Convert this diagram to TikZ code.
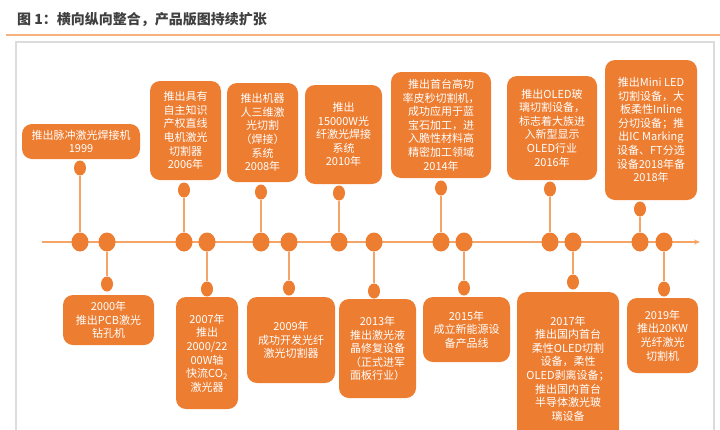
\documentclass[tikz,border=0pt]{standalone}
\usepackage{fontspec}
\newfontfamily\cjk{Noto Sans CJK SC}
\usetikzlibrary{shapes.geometric,arrows.meta}
\definecolor{evorange}{HTML}{ED7D31}
\definecolor{stemorange}{HTML}{F4A467}
\definecolor{ruleorange}{HTML}{F5B27E}
\definecolor{framegray}{HTML}{DCDCDC}
\definecolor{titlegray}{HTML}{404040}

\begin{document}
\begin{tikzpicture}[x=1pt, y=-1pt,
        event/.style={fill=evorange, rounded corners=10pt, text=white, align=center, inner sep=0pt, font=\cjk\fontsize{11}{13.6}\selectfont},
        bigdot/.style={ellipse, fill=evorange, minimum width=17pt, minimum height=19pt, inner sep=0pt},
        smalldot/.style={ellipse, fill=evorange, minimum width=12pt, minimum height=15pt, inner sep=0pt},
        stem/.style={stemorange, line width=1.6pt}]
    \useasboundingbox (0,0) rectangle (720,429);

    \node[anchor=west, inner sep=0pt, text=titlegray, font=\cjk\bfseries\fontsize{14}{16}\selectfont] (title) at (17,20) {图 1：横向纵向整合，产品版图持续扩张};
    \draw[ruleorange, line width=1.8pt] (6,35) -- (720,35);
    \draw[framegray, line width=1.2pt] (16,42) rectangle (714,445);

    % timeline
    \coordinate (tstart) at (42,242);
    \coordinate (tend) at (700,242);
    \draw[stem, -{Stealth[length=6pt,width=5pt]}] (tstart) -- (tend);

    \foreach \n/\x in {1999/80, 2000/107, 2006/184, 2007/207, 2008/261, 2009/289, 2010/339, 2013/374, 2014/441, 2015/464, 2016/550, 2017/573, 2018/640, 2019/664}
        \node[bigdot] (d\n) at (\x,242) {};

    \foreach \n/\x/\y in {1999/80/168, 2006/184/190, 2008/261/192, 2010/339/193, 2014/441/188, 2016/550/189, 2018/640/209,
                          2000/107/284, 2007/207/289, 2009/289/288, 2013/374/291, 2015/464/288, 2017/573/282, 2019/664/289} {
        \node[smalldot] (s\n) at (\x,\y) {};
        \draw[stem] (d\n) -- (s\n);
    }

    % above the line
    \node[event, minimum width=118pt, minimum height=35pt] (b1999) at (81,141.5) {推出脉冲激光焊接机\\1999};
    \node[event, minimum width=71pt, minimum height=99pt] (b2006) at (185.5,130.5) {推出具有\\自主知识\\产权直线\\电机激光\\切割器\\2006年};
    \node[event, minimum width=71pt, minimum height=99pt] (b2008) at (262.5,132.5) {推出机器\\人三维激\\光切割\\（焊接）\\系统\\2008年};
    \node[event, minimum width=77pt, minimum height=99pt] (b2010) at (343.5,134.5) {推出\\15000W光\\纤激光焊接\\系统\\2010年};
    \node[event, minimum width=100pt, minimum height=106pt] (b2014) at (441,125) {推出首台高功\\率皮秒切割机，\\成功应用于蓝\\宝石加工，进\\入脆性材料高\\精密加工领域\\2014年};
    \node[event, minimum width=90pt, minimum height=104pt] (b2016) at (552,128) {推出OLED玻\\璃切割设备，\\标志着大族进\\入新型显示\\OLED行业\\2016年};
    \node[event, minimum width=92pt, minimum height=140pt] (b2018) at (651,130) {推出Mini LED\\切割设备，大\\板柔性Inline\\分切设备；推\\出IC Marking\\设备、FT分选\\设备2018年备\\2018年};

    % below the line
    \node[event, minimum width=91pt, minimum height=50pt] (b2000) at (108.5,320) {2000年\\推出PCB激光\\钻孔机};
    \node[event, minimum width=62pt, minimum height=112pt] (b2007) at (207,353) {2007年\\推出\\2000/22\\00W轴\\快流CO\textsubscript{2}\\激光器};
    \node[event, minimum width=88pt, minimum height=86pt] (b2009) at (291,340) {2009年\\成功开发光纤\\激光切割器};
    \node[event, minimum width=77pt, minimum height=99pt] (b2013) at (377.5,348.5) {2013年\\推出激光液\\晶修复设备\\（正式进军\\面板行业）};
    \node[event, minimum width=87pt, minimum height=65pt] (b2015) at (466.5,329.5) {2015年\\成立新能源设\\备产品线};
    \node[event, minimum width=102pt, minimum height=153pt] (b2017) at (568,368.5) {2017年\\推出国内首台\\柔性OLED切割\\设备，柔性\\OLED剥离设备；\\推出国内首台\\半导体激光玻\\璃设备};
    \node[event, minimum width=71pt, minimum height=75pt] (b2019) at (662.5,335.5) {2019年\\推出20KW\\光纤激光\\切割机};
\end{tikzpicture}
\end{document}
